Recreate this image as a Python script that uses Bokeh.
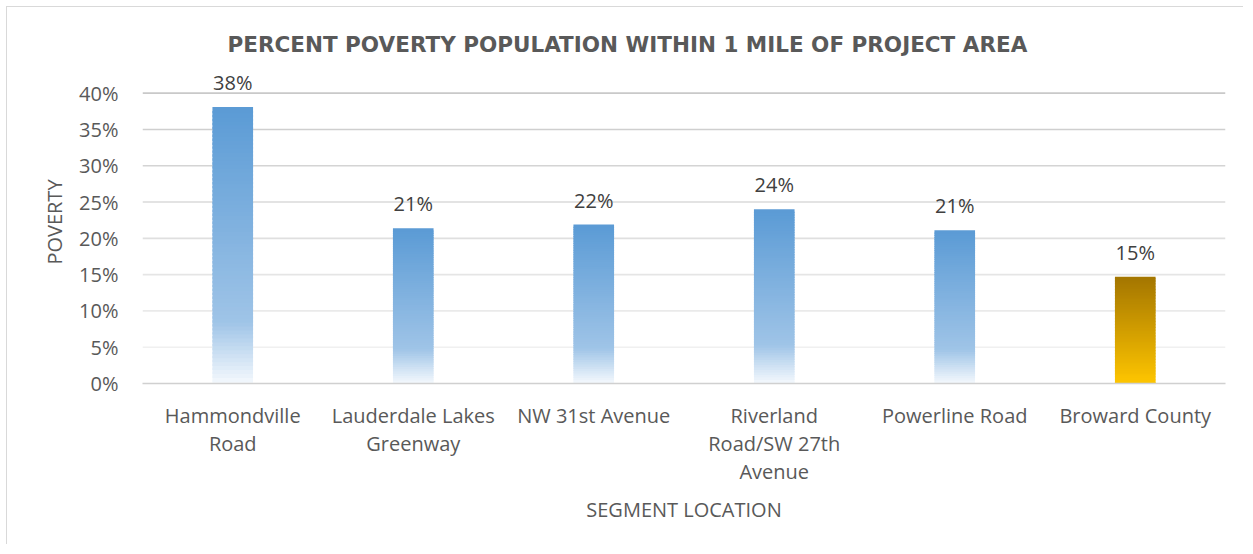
from bokeh.plotting import figure
from bokeh.models import (FactorRange, PrintfTickFormatter, FixedTicker, Span,
                          ColumnDataSource, LabelSet, CategoricalAxis,
                          CustomJSTickFormatter)
from bokeh.core.properties import value
from bokeh.embed import file_html
from bokeh.resources import INLINE

# ---------------- data ----------------
categories = ["Hammondville Road", "Lauderdale Lakes Greenway", "NW 31st Avenue",
              "Riverland Road/SW 27th Avenue", "Powerline Road", "Broward County"]
tick_labels = ["Hammondville\nRoad", "Lauderdale Lakes\nGreenway", "NW 31st Avenue",
               "Riverland\nRoad/SW 27th\nAvenue", "Powerline Road", "Broward County"]
poverty_pct = [38.1, 21.4, 21.9, 24.0, 21.1, 14.7]
value_labels = ["38%", "21%", "22%", "24%", "21%", "15%"]
bar_group = ["segment", "segment", "segment", "segment", "segment", "county"]
y_ticks = [0, 5, 10, 15, 20, 25, 30, 35, 40]

# ---------------- styles ----------------
FONT = "Open Sans"
TXT = "#595959"
GRADIENTS = {
    "segment": [(0.0, (0x5B, 0x9B, 0xD5)), (0.77, (0x9F, 0xC4, 0xE7)), (1.0, (0xF8, 0xFB, 0xFE))],
    "county": [(0.0, (0xA4, 0x76, 0x00)), (1.0, (0xFF, 0xC6, 0x00))],
}
N_SLICES = 70
BAR_W = 0.225
Y_TOP = 44.5          # headroom above the 40% line for the value labels


def grad_color(stops, t):
    for (t0, c0), (t1, c1) in zip(stops[:-1], stops[1:]):
        if t <= t1:
            f = 0 if t1 == t0 else (t - t0) / (t1 - t0)
            c = [round(a + (b - a) * f) for a, b in zip(c0, c1)]
            return "#%02x%02x%02x" % tuple(c)
    return "#%02x%02x%02x" % stops[-1][1]


p = figure(width=1237, height=538, x_range=FactorRange(factors=categories),
           y_range=(0, Y_TOP), output_backend="svg", toolbar_location=None,
           min_border_left=135, min_border_right=19, min_border_top=53,
           min_border_bottom=162, outline_line_color=None,
           background_fill_color="white", border_fill_color="white")
p.styles = {"border-left": "1px solid #D9D9D9", "border-top": "1px solid #D9D9D9",
            "margin-left": "6px", "margin-top": "6px"}

# grid lines (behind bars)
p.xgrid.grid_line_color = None
p.ygrid.grid_line_color = None
for yt in y_ticks[1:]:
    f = (yt - 5) / 35
    g = round(0xF0 + (0xC9 - 0xF0) * f)
    p.add_layout(Span(location=yt, dimension="width", level="underlay",
                      line_color="#%02x%02x%02x" % (g, g, g), line_width=1.6))

# gradient bars built from slices of each value
xs, bottoms, tops, colors = [], [], [], []
for cat, v, grp in zip(categories, poverty_pct, bar_group):
    stops = GRADIENTS[grp]
    for k in range(N_SLICES):
        b = max(0.0, v * (k - 0.6) / N_SLICES)
        tp = v * (k + 1) / N_SLICES
        t = 1 - (k + 0.5) / N_SLICES
        xs.append(cat)
        bottoms.append(b)
        tops.append(tp)
        colors.append(grad_color(stops, t))
src = ColumnDataSource(dict(x=xs, bottom=bottoms, top=tops, color=colors))
p.vbar(x="x", bottom="bottom", top="top", width=BAR_W, fill_color="color",
       line_color=None, source=src)

# value labels
lab = ColumnDataSource(dict(x=categories, y=poverty_pct, t=value_labels))
p.add_layout(LabelSet(x="x", y="y", text="t", source=lab, text_font=value(FONT),
                      text_font_size="20px", text_color="#404040", text_align="center",
                      text_baseline="alphabetic", y_offset=17))

# y axis
p.yaxis.ticker = FixedTicker(ticks=y_ticks)
p.yaxis.formatter = PrintfTickFormatter(format="%d%%")
p.yaxis.axis_line_color = None
p.yaxis.major_tick_line_color = None
p.yaxis.minor_tick_line_color = None
p.yaxis.major_tick_out = 0
p.yaxis.major_label_standoff = 24
p.yaxis.major_label_text_font = FONT
p.yaxis.major_label_text_font_size = "20px"
p.yaxis.major_label_text_color = TXT
p.yaxis.axis_label = "POVERTY"
p.yaxis.axis_label_standoff = 8

# x axes: one stacked axis per line of the wrapped category labels
split_labels = [lbl.split("\n") for lbl in tick_labels]
n_lines = max(len(s) for s in split_labels)
x_axes = [p.xaxis[0]]
for i in range(1, n_lines):
    ax = CategoricalAxis()
    p.add_layout(ax, "below")
    x_axes.append(ax)

for i, ax in enumerate(x_axes):
    line_text = [(s[i] if i < len(s) else " ") for s in split_labels]
    ax.formatter = CustomJSTickFormatter(
        args=dict(cats=categories, lines=line_text),
        code="const i = cats.indexOf(tick); return i >= 0 ? lines[i] : tick;")
    ax.axis_line_color = "#D0D0D0" if i == 0 else None
    ax.axis_line_width = 1.6
    ax.major_tick_line_color = None
    ax.minor_tick_line_color = None
    ax.major_tick_out = 0
    ax.major_tick_in = 0
    ax.major_label_standoff = 18 if i == 0 else -2
    ax.major_label_text_font = FONT
    ax.major_label_text_font_size = "20px"
    ax.major_label_text_color = TXT
    ax.major_label_orientation = "horizontal"

last = x_axes[-1]
last.axis_label = "SEGMENT LOCATION"
last.axis_label_standoff = 8

for ax in (last, p.yaxis[0]):
    ax.axis_label_text_font = FONT
    ax.axis_label_text_font_size = "20px"
    ax.axis_label_text_font_style = "normal"
    ax.axis_label_text_color = TXT

p.title.text = "PERCENT POVERTY POPULATION WITHIN 1 MILE OF PROJECT AREA"
p.title.text_font = "DejaVu Sans"
p.title.text_font_style = "bold"
p.title.text_font_size = "21.5px"
p.title.text_color = TXT
p.title.align = "left"
p.title.offset = 85
p.title.standoff = 8

open("out.html", "w").write(file_html(p, INLINE))
